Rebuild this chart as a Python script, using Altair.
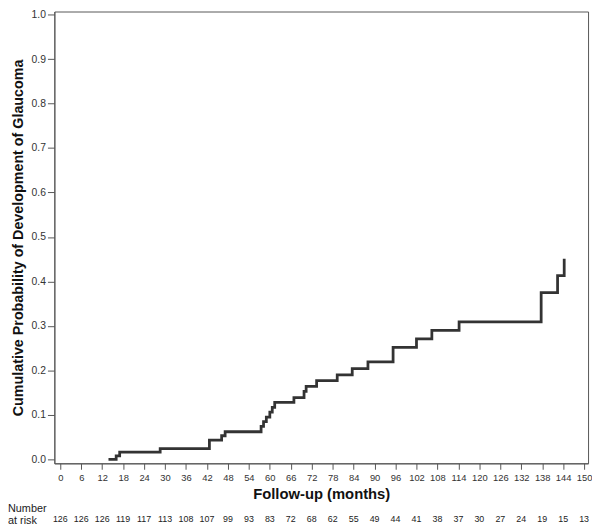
import altair as alt
import pandas as pd

# Step curve (Kaplan-Meier style cumulative probability)
months = [13.8, 16.0, 17.0, 28.6, 42.7, 46.2, 47.2, 57.5, 58.2, 59.0, 60.0, 60.7, 61.4,
          66.9, 69.8, 70.4, 73.4, 79.3, 83.6, 88.1, 95.3, 102.0, 106.4, 114.2, 137.7, 142.4, 144.3]
cum_prob = [0.0, 0.008, 0.016, 0.024, 0.043, 0.053, 0.062, 0.074, 0.085, 0.095, 0.106, 0.117, 0.128,
            0.139, 0.153, 0.164, 0.177, 0.190, 0.204, 0.219, 0.252, 0.271, 0.290, 0.309, 0.375, 0.413, 0.451]

tick_months = list(range(0, 151, 6))
y_ticks = [0.0, 0.1, 0.2, 0.3, 0.4, 0.5, 0.6, 0.7, 0.8, 0.9, 1.0]
at_risk = [126, 126, 126, 119, 117, 113, 108, 107, 99, 93, 83, 72, 68,
           62, 55, 49, 44, 41, 38, 37, 30, 27, 24, 19, 15, 13]
risk_labels = ["Number", "at risk"]

FONT = "Liberation Sans"
W, H = 541, 458

curve = pd.DataFrame({"month": months, "p": cum_prob})
risk = pd.DataFrame({"month": tick_months, "n": at_risk})
lab = pd.DataFrame({"t": risk_labels, "yy": [504, 516]})

xscale = alt.Scale(domain=[-1.7, 151.13], nice=False, zero=False)
yscale = alt.Scale(domain=[-0.009, 1.007], nice=False, zero=False)

xaxis = alt.Axis(values=tick_months, title="Follow-up (months)",
                 tickSize=6, labelPadding=3, labelFontSize=9.5,
                 labelOverlap=False, labelFlush=False,
                 titleFontSize=15, titlePadding=5)

line = alt.Chart(curve).mark_line(
    interpolate="step-after", color="#333333", strokeWidth=2.8
).encode(
    x=alt.X("month:Q", scale=xscale, axis=xaxis),
    y=alt.Y("p:Q", scale=yscale,
            axis=alt.Axis(values=y_ticks, format=".1f",
                          title="Cumulative Probability of Development of Glaucoma",
                          tickSize=7, labelPadding=2, labelFontSize=10.5,
                          labelOverlap=False, labelFlush=False,
                          titleFontSize=14.5, titlePadding=6)),
)

numbers = alt.Chart(risk).mark_text(
    font=FONT, fontSize=9, color="#222222", align="center", baseline="middle"
).encode(
    x=alt.X("month:Q", scale=xscale, axis=xaxis),
    y=alt.value(514),
    text="n:Q",
)

labels = alt.Chart(lab).mark_text(
    font=FONT, fontSize=11, color="#222222", align="left", baseline="middle"
).encode(
    x=alt.value(-47),
    y=alt.Y("yy:Q", scale=None),
    text="t:N",
)

chart = alt.layer(line, numbers, labels).properties(
    width=W, height=H,
    padding={"left": 47, "top": 0, "right": 4, "bottom": 62},
    autosize=alt.AutoSizeParams(type="none"),
).configure_view(
    stroke="#555555", strokeWidth=1
).configure_axis(
    grid=False, domainColor="#555555", tickColor="#555555",
    labelFont=FONT, labelColor="#333333",
    titleFont=FONT, titleFontWeight="bold", titleColor="#111111",
)

chart.save("out.html", embed_options={"renderer": "svg", "actions": False})
